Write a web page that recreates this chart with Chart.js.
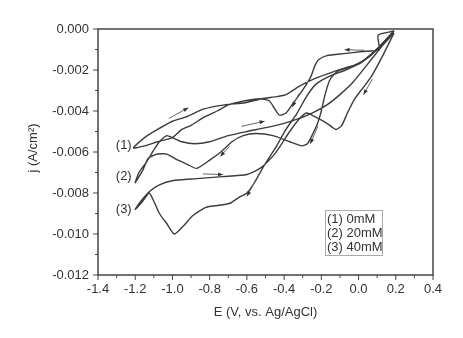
<!DOCTYPE html>
<html><head><meta charset="utf-8">
<script src="https://cdn.jsdelivr.net/npm/chart.js@4.4.1/dist/chart.umd.min.js"></script>
<style>html,body{margin:0;padding:0;background:#fff;}canvas{display:block;}</style>
</head><body>
<canvas id="c" width="463" height="338"></canvas>
<script>
// ---- data ----
const xTickValues = [-1.4, -1.2, -1.0, -0.8, -0.6, -0.4, -0.2, 0.0, 0.2, 0.4];
const yTickValues = [0, -0.002, -0.004, -0.006, -0.008, -0.010, -0.012];
const seriesNames = ['(1) 0mM', '(2) 20mM', '(3) 40mM'];
const curveTags = ['(1)', '(2)', '(3)'];

const curve1E = [0.19, 0.105, 0.11, 0.02, -0.08, -0.17, -0.215, -0.235, -0.255, -0.28, -0.31, -0.35, -0.39, -0.425, -0.45, -0.48, -0.53, -0.61, -0.70, -0.76, -0.83, -0.90, -0.95, -1.00, -1.08, -1.15, -1.21,
  -1.15, -1.08, -1.00, -0.93, -0.83, -0.72, -0.61, -0.52, -0.44, -0.39, -0.32, -0.23, -0.14, -0.07, 0.0, 0.095, 0.19];
const curve1J = [-0.0001, -0.0003, -0.0010, -0.0011, -0.0012, -0.0013, -0.0015, -0.0018, -0.0023, -0.0027, -0.0031, -0.0036, -0.0041, -0.0042, -0.0039, -0.0035, -0.0034, -0.0035, -0.0037, -0.0040, -0.0043, -0.0047, -0.0049, -0.0053, -0.0055, -0.0057, -0.0058,
  -0.0053, -0.0049, -0.0045, -0.0043, -0.0039, -0.0037, -0.0036, -0.0034, -0.0033, -0.0032, -0.0028, -0.0024, -0.0021, -0.0019, -0.0017, -0.0010, -0.0001];

const curve2E = [0.19, 0.12, 0.05, -0.03, -0.10, -0.13, -0.155, -0.18, -0.20, -0.22, -0.245, -0.275, -0.305, -0.37, -0.46, -0.55, -0.62, -0.68, -0.74, -0.80, -0.87, -0.92, -0.97, -1.03, -1.08, -1.13, -1.16, -1.20,
  -1.18, -1.14, -1.10, -1.07, -1.03, -1.00, -0.95, -0.88, -0.80, -0.70, -0.60, -0.49, -0.40, -0.33, -0.25, -0.17, -0.10, -0.03, 0.05, 0.12, 0.19];
const curve2J = [-0.0001, -0.0008, -0.0014, -0.0018, -0.0020, -0.0022, -0.0025, -0.0032, -0.0040, -0.0046, -0.0051, -0.0056, -0.0057, -0.0055, -0.0052, -0.0051, -0.0052, -0.0055, -0.0060, -0.0064, -0.0068, -0.0066, -0.0064, -0.0061, -0.0061, -0.0063, -0.0069, -0.0075,
  -0.0070, -0.0065, -0.0059, -0.0055, -0.0052, -0.0053, -0.0055, -0.0056, -0.0055, -0.0052, -0.0050, -0.0048, -0.0046, -0.0044, -0.0041, -0.0037, -0.0032, -0.0026, -0.0017, -0.0009, -0.0002];

const curve3E = [0.19, 0.11, 0.02, -0.07, -0.155, -0.23, -0.28, -0.33, -0.39, -0.44, -0.51, -0.56, -0.60, -0.64, -0.69, -0.75, -0.82, -0.89, -0.94, -0.99, -1.03, -1.07, -1.10, -1.125, -1.16, -1.20,
  -1.17, -1.12, -1.07, -1.00, -0.87, -0.73, -0.60, -0.53, -0.46, -0.42, -0.37, -0.32, -0.28, -0.23, -0.17, -0.14, -0.12, -0.09, -0.06, -0.02, 0.03, 0.07, 0.13, 0.19];
const curve3J = [-0.0001, -0.0009, -0.0016, -0.0020, -0.0023, -0.0027, -0.0033, -0.0041, -0.0049, -0.0057, -0.0067, -0.0075, -0.0080, -0.0082, -0.0085, -0.0086, -0.0087, -0.0091, -0.0096, -0.0100, -0.0095, -0.0090, -0.0084, -0.0080, -0.0084, -0.0088,
  -0.0084, -0.0079, -0.0076, -0.0074, -0.0073, -0.0072, -0.0071, -0.0068, -0.0062, -0.0057, -0.0050, -0.0044, -0.0041, -0.0043, -0.0046, -0.0048, -0.0049, -0.0047, -0.0041, -0.0034, -0.0028, -0.0023, -0.0013, -0.0002];

// curve tag anchors (E, j) and scan-direction arrows [E0, j0, E1, j1]
const tagE = [-1.219, -1.219, -1.219];
const tagJ = [-0.00568, -0.00719, -0.00878];
const arrowStartE = [-1.019, 0.033, -0.63, -0.836, 0.074, -0.218, -0.549, -0.32, -0.693];
const arrowStartJ = [-0.00436, -0.00104, -0.00475, -0.00707, -0.00244, -0.00472, -0.00735, -0.00315, -0.00572];
const arrowEndE   = [-0.915, -0.075, -0.505, -0.728, 0.027, -0.259, -0.60, -0.356, -0.743];
const arrowEndJ   = [-0.00384, -0.00101, -0.0045, -0.0071, -0.0032, -0.0056, -0.00816, -0.0038, -0.00621];

// ---- build ----
const pts = (xs, ys) => xs.map((v, i) => ({x: v, y: ys[i]}));
const FONT = '"Liberation Sans", Arial, sans-serif';
const TXT = '#333';
const LINE = '#3c3c3c';

const fmt = (v, d) => (Math.abs(v) < 1e-9 ? 0 : v).toFixed(d);

const decor = {
  id: 'decor',
  afterDraw(chart) {
    const {ctx, chartArea: a, scales: {x, y}} = chart;
    ctx.save();
    // frame
    ctx.strokeStyle = '#444'; ctx.lineWidth = 1.5;
    ctx.strokeRect(a.left, a.top, a.right - a.left, a.bottom - a.top);
    // ticks (major + minor, outward)
    ctx.lineWidth = 1;
    ctx.beginPath();
    for (let i = 0; i < xTickValues.length; i++) {
      const px = x.getPixelForValue(xTickValues[i]);
      ctx.moveTo(px, a.bottom); ctx.lineTo(px, a.bottom + 5);
      if (i < xTickValues.length - 1) {
        const pm = x.getPixelForValue((xTickValues[i] + xTickValues[i + 1]) / 2);
        ctx.moveTo(pm, a.bottom); ctx.lineTo(pm, a.bottom + 3);
      }
    }
    for (let i = 0; i < yTickValues.length; i++) {
      const py = y.getPixelForValue(yTickValues[i]);
      ctx.moveTo(a.left - 5, py); ctx.lineTo(a.left, py);
      if (i < yTickValues.length - 1) {
        const pm = y.getPixelForValue((yTickValues[i] + yTickValues[i + 1]) / 2);
        ctx.moveTo(a.left - 3, pm); ctx.lineTo(a.left, pm);
      }
    }
    ctx.stroke();

    // arrows
    for (let i = 0; i < arrowStartE.length; i++) {
      const x0 = x.getPixelForValue(arrowStartE[i]), y0 = y.getPixelForValue(arrowStartJ[i]);
      const x1 = x.getPixelForValue(arrowEndE[i]), y1 = y.getPixelForValue(arrowEndJ[i]);
      ctx.strokeStyle = '#666'; ctx.lineWidth = 1;
      ctx.beginPath(); ctx.moveTo(x0, y0); ctx.lineTo(x1, y1); ctx.stroke();
      const ang = Math.atan2(y1 - y0, x1 - x0), L = 5, W = 2;
      ctx.fillStyle = '#333';
      ctx.beginPath();
      ctx.moveTo(x1, y1);
      ctx.lineTo(x1 - L * Math.cos(ang) + W * Math.sin(ang), y1 - L * Math.sin(ang) - W * Math.cos(ang));
      ctx.lineTo(x1 - L * Math.cos(ang) - W * Math.sin(ang), y1 - L * Math.sin(ang) + W * Math.cos(ang));
      ctx.closePath(); ctx.fill();
    }

    // curve tags
    ctx.fillStyle = TXT; ctx.font = '13px ' + FONT;
    ctx.textAlign = 'right'; ctx.textBaseline = 'middle';
    for (let i = 0; i < curveTags.length; i++) {
      ctx.fillText(curveTags[i], x.getPixelForValue(tagE[i]), y.getPixelForValue(tagJ[i]));
    }

    // legend box
    const lx = 325, ly = 210, lw = 57, lh = 45;
    ctx.strokeStyle = '#aaa'; ctx.lineWidth = 1;
    ctx.strokeRect(lx + 0.5, ly + 0.5, lw, lh);
    ctx.textAlign = 'left';
    seriesNames.forEach((s, i) => ctx.fillText(s, lx + 2, ly + 9 + i * 14.2));

    // axis titles
    ctx.textAlign = 'center';
    ctx.fillText('E (V, vs. Ag/AgCl)', (a.left + a.right) / 2, 312);
    ctx.save();
    ctx.translate(33, 148); ctx.rotate(-Math.PI / 2);
    ctx.fillText('j (A/cm²)', 0, 0);
    ctx.restore();
    ctx.restore();
  }
};

const mk = (label, xs, ys) => ({
  label, data: pts(xs, ys), showLine: true, borderColor: LINE, borderWidth: 1.4,
  pointRadius: 0, tension: 0.2, fill: false
});

new Chart(document.getElementById('c'), {
  type: 'scatter',
  data: {datasets: [
    mk(seriesNames[0], curve1E, curve1J),
    mk(seriesNames[1], curve2E, curve2J),
    mk(seriesNames[2], curve3E, curve3J)
  ]},
  options: {
    responsive: false, animation: false, devicePixelRatio: 1,
    layout: {padding: {top: 29, right: 30, left: 0, bottom: 0}},
    plugins: {legend: {display: false}, tooltip: {enabled: false}},
    scales: {
      x: {
        type: 'linear', min: -1.4, max: 0.4,
        afterBuildTicks: s => { s.ticks = xTickValues.map(v => ({value: v})); },
        afterFit: s => { s.height = 63; },
        grid: {display: false, drawTicks: false},
        border: {display: false},
        ticks: {padding: 7, color: TXT, font: {family: FONT, size: 13}, maxRotation: 0,
                callback: v => fmt(v, 1)}
      },
      y: {
        type: 'linear', min: -0.012, max: 0,
        afterBuildTicks: s => { s.ticks = yTickValues.map(v => ({value: v})); },
        afterFit: s => { s.width = 98; },
        grid: {display: false, drawTicks: false},
        border: {display: false},
        ticks: {padding: 9, color: TXT, font: {family: FONT, size: 13},
                callback: v => fmt(v, 3)}
      }
    }
  },
  plugins: [decor]
});
</script>
</body></html>
